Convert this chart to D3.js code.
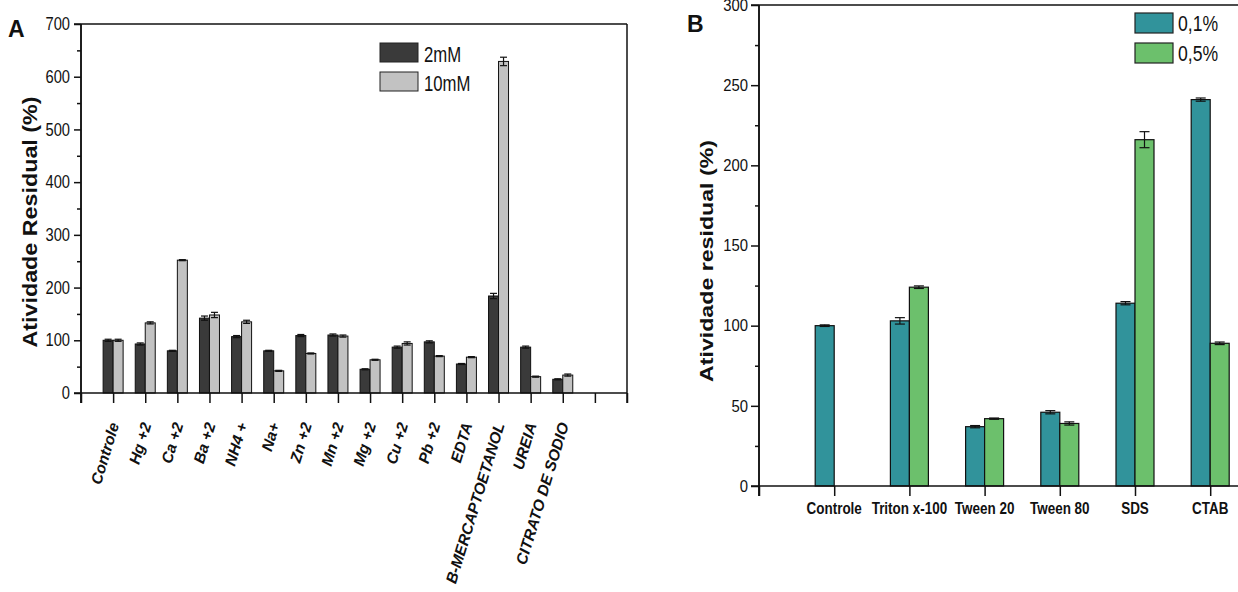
<!DOCTYPE html>
<head>
  <meta charset="utf-8">
  <script src="https://d3js.org/d3.v7.min.js"></script>
  <style>
    body { margin:0; background:#fff; }
    text { font-family: "Liberation Sans", Arial, sans-serif; fill:#111; }
  </style>
</head>
<body>
<script>
// panel A data
var catsA = ["Controle","Hg +2","Ca +2","Ba +2","NH4 +","Na+","Zn +2","Mn +2","Mg +2","Cu +2","Pb +2","EDTA","B-MERCAPTOETANOL","UREIA","CITRATO DE SODIO"];
var a2mM  = [100, 93, 80, 142, 107, 80, 109, 110, 45, 87, 97, 55, 184, 87, 26];
var a10mM = [100, 133, 252, 148, 135, 42, 75, 108, 63, 94, 70, 68, 629, 31, 34];
var e2mM  = [2, 2, 1, 4, 2, 1, 2, 2, 1, 2, 2, 1, 5, 2, 1];
var e10mM = [2, 2, 1, 5, 3, 1, 1, 2, 1, 3, 1, 1, 8, 1, 2];
var seriesA = ["2mM", "10mM"];
var ticksA = [0,100,200,300,400,500,600,700];

// panel B data
var catsB = ["Controle","Triton x-100","Tween 20","Tween 80","SDS","CTAB"];
var b01 = [100, 103, 37, 46, 114, 241];
var b05 = [0, 124, 42, 39, 216, 89];
var eb01 = [0.5, 2, 0.7, 1, 1, 1];
var eb05 = [0, 0.8, 0.4, 1, 5, 0.8];
var seriesB = ["0,1%", "0,5%"];
var ticksB = [0,50,100,150,200,250,300];

var svg = d3.select("body").append("svg").attr("width",1238).attr("height",592);

function narrow(sel, k){
  sel.each(function(){
    var L = this.getComputedTextLength();
    d3.select(this).attr("textLength", L*k).attr("lengthAdjust","spacingAndGlyphs");
  });
}

// ---------- Panel A ----------
var xA = d3.scaleLinear().domain([0,17]).range([81,627]);
var yA = d3.scaleLinear().domain([0,700]).range([393,24]);
var gA = svg.append("g");
var bwA = 10;

// frame
gA.append("line").attr("x1",74).attr("x2",627).attr("y1",yA(700)).attr("y2",yA(700)).attr("stroke","#111").attr("stroke-width",1.5);
gA.append("line").attr("x1",627).attr("x2",627).attr("y1",yA(700)).attr("y2",403).attr("stroke","#111").attr("stroke-width",1.5);

var colA = ["#3a3a3a","#c2c2c2"];
[a2mM, a10mM].forEach(function(vals, s){
  var errs = s == 0 ? e2mM : e10mM;
  gA.selectAll(".ba"+s).data(vals).enter().append("rect")
    .attr("x", function(d,i){ return xA(i+1) + (s==0 ? -bwA : 0); })
    .attr("y", function(d){ return yA(d); })
    .attr("width", bwA)
    .attr("height", function(d){ return yA(0)-yA(d); })
    .attr("fill", colA[s]).attr("stroke","#111").attr("stroke-width",1);
  vals.forEach(function(d,i){
    var cx = xA(i+1) + (s==0 ? -bwA/2 : bwA/2);
    var e = errs[i];
    var g = gA.append("g").attr("stroke","#111").attr("stroke-width",1.2);
    g.append("line").attr("x1",cx).attr("x2",cx).attr("y1",yA(d+e)).attr("y2",yA(d-e));
    g.append("line").attr("x1",cx-3.5).attr("x2",cx+3.5).attr("y1",yA(d+e)).attr("y2",yA(d+e));
    g.append("line").attr("x1",cx-3.5).attr("x2",cx+3.5).attr("y1",yA(d-e)).attr("y2",yA(d-e));
  });
});

// axes A
var yAxA = gA.append("g").attr("transform","translate(81,0)")
  .call(d3.axisLeft(yA).tickValues(ticksA).tickSize(7).tickPadding(4).tickFormat(d3.format("d")));
yAxA.append("g").call(d3.axisLeft(yA).tickValues(d3.range(50,700,100)).tickSize(4).tickFormat(""));
yAxA.selectAll("path.domain").attr("d","M0,24V403");
var xAxA = gA.append("g").attr("transform","translate(0,393)")
  .call(d3.axisBottom(xA).tickValues(d3.range(0,18)).tickSize(10).tickFormat(""));
xAxA.selectAll("path.domain").attr("d","M74,0H627");
gA.selectAll(".domain, .tick line").attr("stroke","#111").attr("stroke-width",1.5);
yAxA.selectAll(".tick text").attr("font-size",17.5).attr("fill","#111");
narrow(yAxA.selectAll(".tick text"), 0.84);

// rotated category labels
gA.selectAll(".xlA").data(catsA).enter().append("text")
  .attr("transform", function(d,i){ return "translate(" + (xA(i+1)+1) + ",423) rotate(-73)"; })
  .attr("text-anchor","end").attr("dy","0.35em")
  .attr("font-size",15.5).attr("font-weight","bold").attr("font-style","italic")
  .text(function(d){ return d; });

gA.append("text").attr("transform","translate(37,222) rotate(-90)")
  .attr("text-anchor","middle").attr("font-size",21).attr("font-weight","bold")
  .attr("textLength",251).attr("lengthAdjust","spacingAndGlyphs")
  .text("Atividade Residual (%)");
gA.append("text").attr("x",8).attr("y",37).attr("font-size",23).attr("font-weight","bold").text("A");

// legend A
seriesA.forEach(function(name, s){
  gA.append("rect").attr("x",380).attr("y",43+s*29).attr("width",38).attr("height",19)
    .attr("fill",colA[s]).attr("stroke","#222").attr("stroke-width",1);
  var t = gA.append("text").attr("x",424).attr("y",62+s*28.5).attr("font-size",22).text(name);
  narrow(t, 0.76);
});

// ---------- Panel B ----------
var xB = d3.scaleLinear().domain([0,7]).range([759,759+7*75.2]);
var yB = d3.scaleLinear().domain([0,300]).range([486,5]);
var gB = svg.append("g");
var bwB = 19;
var colB = ["#31939b","#6cc06c"];

gB.append("line").attr("x1",751).attr("x2",1238).attr("y1",yB(300)).attr("y2",yB(300)).attr("stroke","#111").attr("stroke-width",1.5);

[b01, b05].forEach(function(vals, s){
  var errs = s == 0 ? eb01 : eb05;
  vals.forEach(function(d,i){
    if (d <= 0) return;
    var x0 = xB(i+1) + (s==0 ? -bwB : 0);
    gB.append("rect").attr("x",x0).attr("y",yB(d)).attr("width",bwB).attr("height",yB(0)-yB(d))
      .attr("fill",colB[s]).attr("stroke","#111").attr("stroke-width",1.2);
    var cx = x0 + bwB/2, e = errs[i];
    var g = gB.append("g").attr("stroke","#111").attr("stroke-width",1.2);
    g.append("line").attr("x1",cx).attr("x2",cx).attr("y1",yB(d+e)).attr("y2",yB(d-e));
    g.append("line").attr("x1",cx-5).attr("x2",cx+5).attr("y1",yB(d+e)).attr("y2",yB(d+e));
    g.append("line").attr("x1",cx-5).attr("x2",cx+5).attr("y1",yB(d-e)).attr("y2",yB(d-e));
  });
});

var yAxB = gB.append("g").attr("transform","translate(759,0)")
  .call(d3.axisLeft(yB).tickValues(ticksB).tickSize(8).tickPadding(3).tickFormat(d3.format("d")));
yAxB.append("g").call(d3.axisLeft(yB).tickValues(d3.range(25,300,50)).tickSize(4).tickFormat(""));
yAxB.selectAll("path.domain").attr("d","M0,5V496");
var xAxB = gB.append("g").attr("transform","translate(0,486)")
  .call(d3.axisBottom(xB).tickValues(d3.range(0,7)).tickSize(10).tickFormat(""));
xAxB.selectAll("path.domain").attr("d","M751,0H1238");
gB.selectAll(".domain, .tick line").attr("stroke","#111").attr("stroke-width",1.5);
yAxB.selectAll(".tick text").attr("font-size",16.5).attr("fill","#111");
narrow(yAxB.selectAll(".tick text"), 0.9);

var xlB = gB.selectAll(".xlB").data(catsB).enter().append("text")
  .attr("x", function(d,i){ return xB(i+1); }).attr("y",514)
  .attr("text-anchor","middle").attr("font-size",16).attr("font-weight","bold")
  .text(function(d){ return d; });
narrow(xlB, 0.84);

gB.append("text").attr("transform","translate(713,261) rotate(-90)")
  .attr("text-anchor","middle").attr("font-size",19).attr("font-weight","bold")
  .attr("textLength",242).attr("lengthAdjust","spacingAndGlyphs")
  .text("Atividade residual (%)");
gB.append("text").attr("x",687).attr("y",32).attr("font-size",23).attr("font-weight","bold").text("B");

seriesB.forEach(function(name, s){
  gB.append("rect").attr("x",1135).attr("y",13+s*30).attr("width",38).attr("height",20)
    .attr("fill",colB[s]).attr("stroke","#222").attr("stroke-width",1.2);
  var t = gB.append("text").attr("x",1178).attr("y",31+s*30).attr("font-size",22).text(name);
  narrow(t, 0.8);
});
</script>
</body>
